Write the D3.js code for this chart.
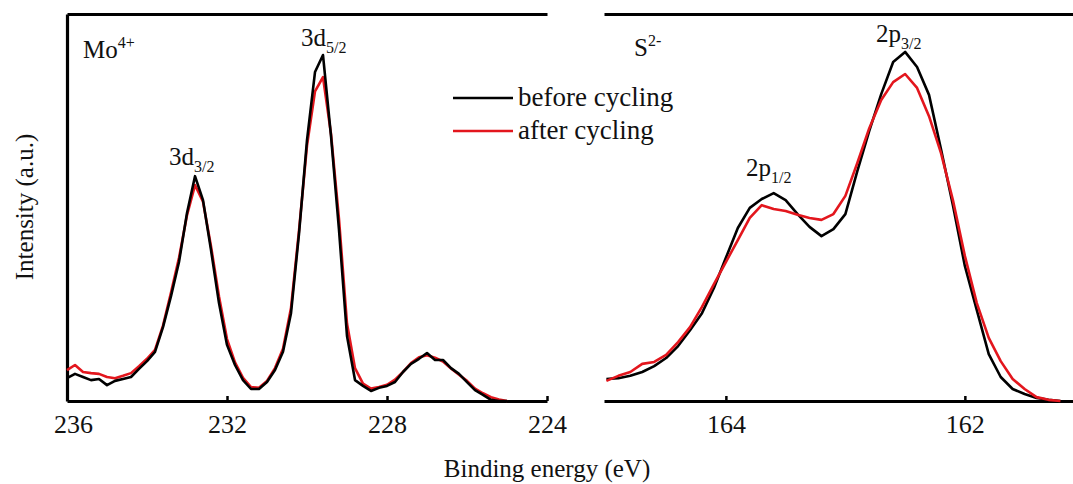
<!DOCTYPE html>
<html>
<head>
<meta charset="utf-8">
<script src="https://cdn.jsdelivr.net/npm/d3@7"></script>
<style>
  body { margin: 0; background: #fff; }
  svg { display: block; font-family: "Liberation Serif", "Times New Roman", serif; }
</style>
</head>
<body>
<div id="chart"></div>
<script>
// Mo 3d spectrum (binding energy, eV)
const moEnergy = [236.0, 235.8, 235.6, 235.4, 235.2, 235.0, 234.8, 234.6, 234.4, 234.2,
                  234.0, 233.8, 233.6, 233.4, 233.2, 233.0, 232.8, 232.6, 232.4, 232.2,
                  232.0, 231.8, 231.6, 231.4, 231.2, 231.0, 230.8, 230.6, 230.4, 230.2,
                  230.0, 229.8, 229.6, 229.4, 229.2, 229.0, 228.8, 228.6, 228.4, 228.2,
                  228.0, 227.8, 227.6, 227.4, 227.2, 227.0, 226.8, 226.6, 226.4, 226.2,
                  226.0, 225.8, 225.6, 225.4, 225.2, 225.0];
const moBefore = [5.9, 7.0, 6.2, 5.4, 5.7, 4.1, 5.2, 5.7, 6.2, 8.3,
                  10.3, 12.7, 19.1, 27.1, 35.9, 48.6, 58.1, 51.9, 39.0, 25.3,
                  14.5, 9.3, 5.4, 3.1, 3.1, 4.9, 8.0, 12.7, 22.7, 43.2,
                  67.4, 85.0, 89.4, 68.5, 44.2, 16.8, 5.4, 3.9, 2.6, 3.4,
                  3.9, 4.9, 7.5, 9.6, 10.9, 12.4, 10.6, 10.6, 8.5, 7.0,
                  4.9, 2.8, 1.6, 0.3, 0, 0];
const moAfter = [8.0, 9.3, 7.5, 7.2, 7.0, 6.2, 5.9, 6.5, 7.2, 9.0,
                 10.9, 13.2, 19.5, 28.0, 37.0, 48.0, 55.8, 51.5, 40.0, 27.0,
                 16.0, 10.0, 6.0, 3.6, 3.4, 5.2, 8.5, 13.5, 24.0, 44.0,
                 66.0, 80.0, 83.7, 69.0, 47.0, 20.0, 8.5, 4.5, 3.2, 3.6,
                 4.2, 5.5, 7.5, 9.8, 11.3, 11.8, 11.2, 10.2, 8.4, 6.8,
                 5.2, 3.2, 2.0, 1.0, 0.4, 0];

// S 2p spectrum
const sEnergy = [165.0, 164.9, 164.8, 164.7, 164.6, 164.5, 164.4, 164.3, 164.2, 164.1,
                 164.0, 163.9, 163.8, 163.7, 163.6, 163.5, 163.4, 163.3, 163.2, 163.1,
                 163.0, 162.9, 162.8, 162.7, 162.6, 162.5, 162.4, 162.3, 162.2, 162.1,
                 162.0, 161.9, 161.8, 161.7, 161.6, 161.5, 161.4, 161.3, 161.2];
const sBefore = [5.7, 5.9, 6.5, 7.5, 9.0, 11.1, 14.2, 18.3, 22.7, 29.2,
                 37.0, 44.7, 49.9, 52.2, 53.7, 51.9, 48.3, 45.0, 42.6, 44.4,
                 48.3, 59.4, 69.8, 79.3, 87.6, 90.2, 86.3, 79.1, 65.1, 50.6,
                 34.9, 23.5, 12.1, 6.2, 3.1, 1.8, 0.8, 0.3, 0];
const sAfter = [5.2, 6.5, 7.5, 9.6, 10.1, 11.9, 15.2, 19.1, 24.3, 30.2,
                35.9, 41.6, 47.3, 50.6, 49.6, 49.1, 48.1, 47.3, 46.8, 48.3,
                53.0, 61.5, 70.5, 77.8, 82.4, 84.5, 80.9, 73.6, 64.1, 51.9,
                37.5, 25.3, 16.3, 10.3, 5.7, 3.1, 1.0, 0.3, 0];

const moTicks = [236, 232, 228, 224];
const sTicks = [164, 162];
const seriesNames = ['before cycling', 'after cycling'];
const seriesColors = ['#000000', '#e3161d'];

var width = 1073;
var height = 484;
var plotTop = 14;
var plotBottom = 401;

var svg = d3.select('#chart')
  .append('svg')
  .attr('width', width)
  .attr('height', height);

var y = d3.scaleLinear().domain([0, 100]).range([plotBottom, plotTop]);
var xMo = d3.scaleLinear().domain([236, 224]).range([67, 547]);
var xS = d3.scaleLinear().domain([165.02, 161.095]).range([604, 1073]);

function drawAxes(x, ticks, withLeft) {
  var g = svg.append('g');

  var bottom = g.append('g')
    .attr('transform', 'translate(0,' + plotBottom + ')')
    .call(d3.axisBottom(x).tickValues(ticks).tickSize(-5).tickSizeOuter(0).tickPadding(14).tickFormat(d3.format('d')));
  bottom.selectAll('text').style('font-size', '26px').attr('fill', '#111');
  bottom.selectAll('.tick line').attr('stroke', '#000').attr('stroke-width', 2.5);

  g.append('g')
    .attr('transform', 'translate(0,' + plotTop + ')')
    .call(d3.axisTop(x).tickValues([]).tickSizeOuter(0));

  if (withLeft) {
    g.append('g')
      .attr('transform', 'translate(' + x.range()[0] + ',0)')
      .call(d3.axisLeft(y).tickValues([]).tickSizeOuter(0));
  }
  // d3 puts sans-serif on axis groups, use the page serif instead
  g.selectAll('g').attr('font-family', null).attr('font-size', null);
  g.selectAll('.domain').attr('stroke', '#000').attr('stroke-width', 3.2);
  return bottom;
}

var moAxis = drawAxes(xMo, moTicks, true);
// first label sits a bit right of the corner
moAxis.selectAll('.tick text').filter(d => d === 236).attr('dx', 6);
drawAxes(xS, sTicks, false);

function drawLine(x, energy, values, color) {
  var line = d3.line()
    .x((d, i) => x(energy[i]))
    .y(d => y(d));
  svg.append('path')
    .datum(values)
    .attr('d', line)
    .attr('fill', 'none')
    .attr('stroke', color)
    .attr('stroke-width', 2.6)
    .attr('stroke-linejoin', 'round');
}

// left panel: black drawn over red
drawLine(xMo, moEnergy, moAfter, seriesColors[1]);
drawLine(xMo, moEnergy, moBefore, seriesColors[0]);
// right panel: red over black
drawLine(xS, sEnergy, sBefore, seriesColors[0]);
drawLine(xS, sEnergy, sAfter, seriesColors[1]);

// text with a sub- or superscript part
function label(x, yPos, main, script, sup) {
  var t = svg.append('text')
    .attr('x', x)
    .attr('y', yPos)
    .style('font-size', '25px')
    .attr('fill', '#111');
  t.append('tspan').text(main);
  t.append('tspan')
    .attr('dy', sup ? -10 : 7)
    .style('font-size', '16px')
    .text(script);
}

label(83, 58, 'Mo', '4+', true);
label(301, 46, '3d', '5/2', false);
label(169, 165, '3d', '3/2', false);
label(634, 56, 'S', '2-', true);
label(876, 42, '2p', '3/2', false);
label(746, 176, '2p', '1/2', false);

// legend
var legend = svg.append('g')
  .selectAll('g')
  .data(seriesNames)
  .enter()
  .append('g')
  .attr('transform', (d, i) => 'translate(453,' + (98 + i * 33) + ')');

legend.append('line')
  .attr('x1', 0).attr('x2', 60)
  .attr('stroke', (d, i) => seriesColors[i])
  .attr('stroke-width', 2.6);

legend.append('text')
  .attr('x', 65)
  .attr('y', 8)
  .style('font-size', '27px')
  .attr('fill', '#111')
  .text(d => d);

// axis titles
svg.append('text')
  .attr('x', 547)
  .attr('y', 477)
  .attr('text-anchor', 'middle')
  .style('font-size', '25px')
  .attr('fill', '#111')
  .text('Binding energy (eV)');

svg.append('text')
  .attr('transform', 'translate(33,207) rotate(-90)')
  .attr('text-anchor', 'middle')
  .style('font-size', '25px')
  .attr('fill', '#111')
  .text('Intensity (a.u.)');
</script>
</body>
</html>
